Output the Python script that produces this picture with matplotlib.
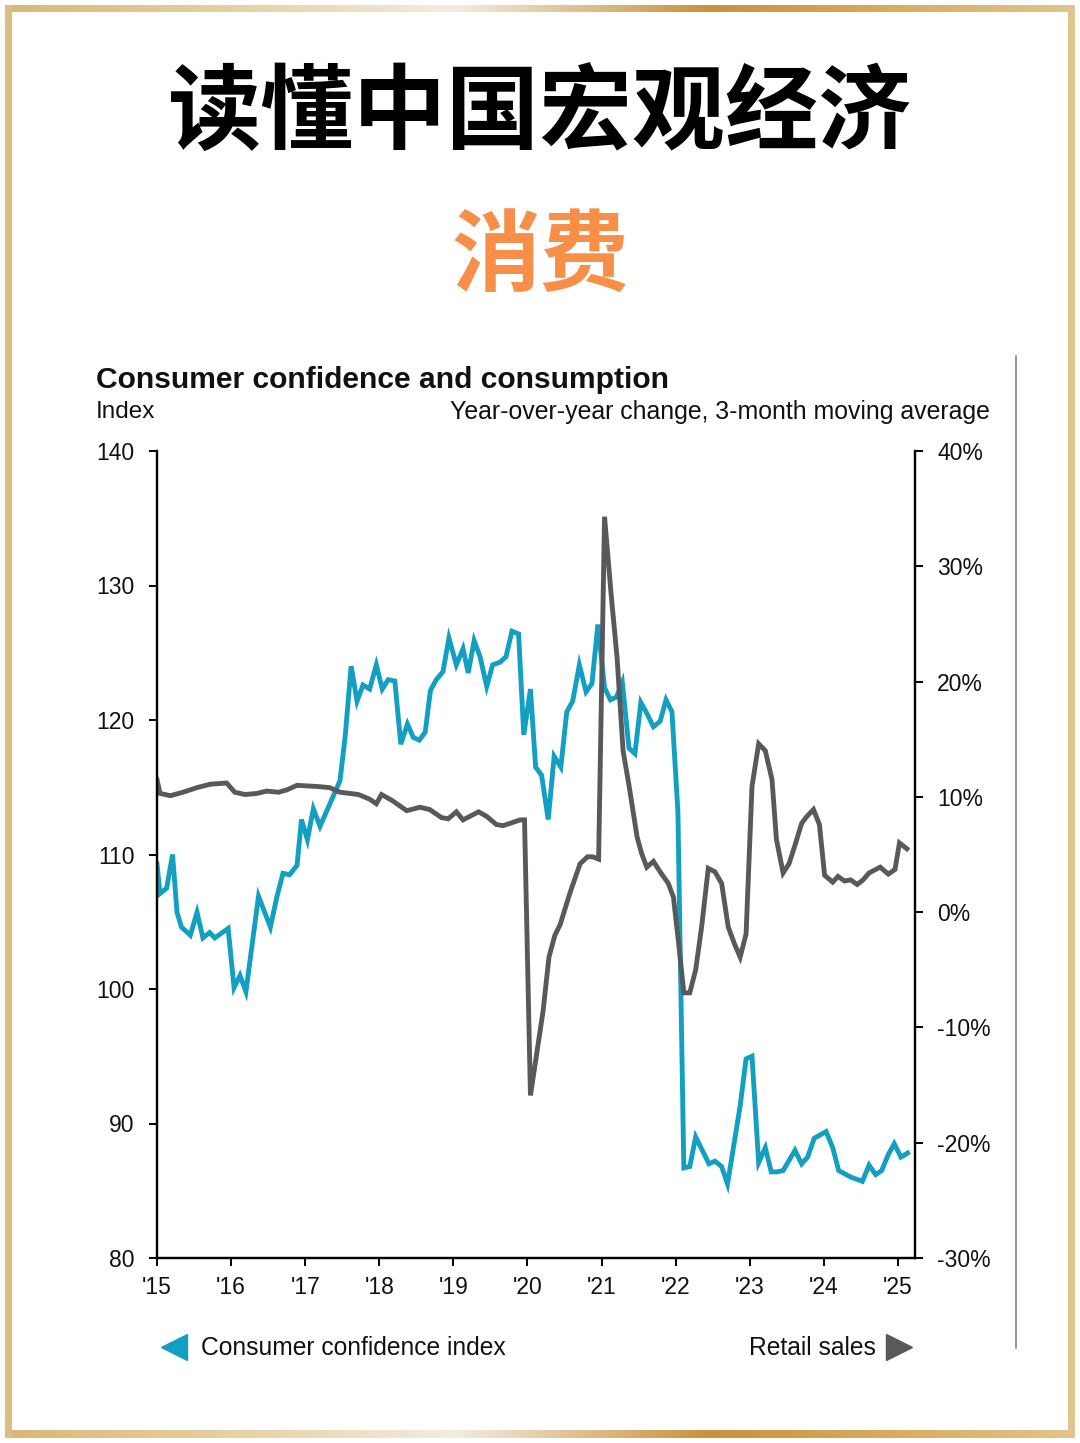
import numpy as np
import matplotlib
matplotlib.use('Agg')
import matplotlib.pyplot as plt
from matplotlib.colors import LinearSegmentedColormap
from matplotlib.patches import Rectangle

W, H = 1080, 1443
BLUE = '#129fc2'
GREY = '#58595b'
SANS = ['Liberation Sans', 'DejaVu Sans']
CJK = ['Noto Sans CJK SC', 'DejaVu Sans']

# consumer confidence index (left axis)
cci_t = [2015.00, 2015.04, 2015.13, 2015.21, 2015.27, 2015.33, 2015.45, 2015.54,
         2015.62, 2015.71, 2015.78, 2015.96, 2016.04, 2016.12, 2016.20, 2016.37,
         2016.53, 2016.62, 2016.70, 2016.79, 2016.89, 2016.95, 2017.03, 2017.11,
         2017.20, 2017.36, 2017.47, 2017.54, 2017.62, 2017.70, 2017.78, 2017.87,
         2017.96, 2018.04, 2018.12, 2018.21, 2018.29, 2018.38, 2018.46, 2018.54,
         2018.62, 2018.69, 2018.77, 2018.86, 2018.94, 2019.04, 2019.13, 2019.20,
         2019.28, 2019.36, 2019.45, 2019.53, 2019.63, 2019.71, 2019.79, 2019.88,
         2019.95, 2020.04, 2020.11, 2020.19, 2020.28, 2020.36, 2020.45, 2020.53,
         2020.61, 2020.70, 2020.79, 2020.87, 2020.95, 2021.04, 2021.12, 2021.20,
         2021.28, 2021.37, 2021.45, 2021.53, 2021.61, 2021.70, 2021.79, 2021.87,
         2021.95, 2022.03, 2022.11, 2022.19, 2022.27, 2022.36, 2022.45, 2022.53,
         2022.62, 2022.70, 2022.87, 2022.95, 2023.03, 2023.12, 2023.21, 2023.29,
         2023.36, 2023.45, 2023.61, 2023.70, 2023.78, 2023.87, 2024.03, 2024.12,
         2024.20, 2024.37, 2024.52, 2024.61, 2024.70, 2024.78, 2024.87, 2024.95,
         2025.04, 2025.13]
cci_v = [109.3, 107.1, 107.5, 110.0, 105.7, 104.6, 104.0, 105.7,
         103.8, 104.2, 103.8, 104.5, 100.1, 101.0, 99.8, 106.9,
         104.6, 106.9, 108.6, 108.5, 109.2, 112.6, 111.1, 113.4,
         112.1, 114.1, 115.5, 118.8, 124.0, 121.4, 122.6, 122.3,
         124.1, 122.3, 123.0, 122.9, 118.2, 119.7, 118.7, 118.5,
         119.1, 122.2, 123.0, 123.6, 126.1, 124.1, 125.3, 123.5,
         125.9, 124.7, 122.5, 124.1, 124.3, 124.7, 126.6, 126.4,
         118.9, 122.3, 116.5, 115.9, 112.6, 117.3, 116.5, 120.6,
         121.4, 124.1, 122.1, 122.7, 127.1, 122.4, 121.5, 121.7,
         122.8, 117.9, 117.5, 121.3, 120.5, 119.5, 119.9, 121.5,
         120.6, 113.2, 86.7, 86.8, 89.0, 88.0, 87.0, 87.2,
         86.8, 85.5, 91.3, 94.8, 95.0, 87.1, 88.2, 86.4,
         86.4, 86.5, 88.0, 87.0, 87.5, 88.9, 89.4, 88.2,
         86.5, 86.0, 85.7, 86.9, 86.2, 86.5, 87.7, 88.5,
         87.5, 87.8]

# retail sales, yoy %, 3-month moving average (right axis)
rs_t = [2015.00, 2015.04, 2015.18, 2015.35, 2015.54, 2015.72, 2015.94, 2016.05,
        2016.19, 2016.35, 2016.48, 2016.64, 2016.75, 2016.89, 2017.16, 2017.33,
        2017.47, 2017.60, 2017.72, 2017.87, 2017.96, 2018.03, 2018.17, 2018.37,
        2018.55, 2018.68, 2018.84, 2018.93, 2019.04, 2019.13, 2019.34, 2019.45,
        2019.58, 2019.67, 2019.81, 2019.90, 2019.96, 2020.04, 2020.21, 2020.29,
        2020.37, 2020.44, 2020.57, 2020.71, 2020.81, 2020.88, 2020.96, 2021.04,
        2021.13, 2021.21, 2021.29, 2021.37, 2021.48, 2021.54, 2021.61, 2021.70,
        2021.79, 2021.90, 2021.97, 2022.04, 2022.11, 2022.19, 2022.27, 2022.35,
        2022.44, 2022.53, 2022.62, 2022.71, 2022.79, 2022.87, 2022.95, 2023.03,
        2023.12, 2023.21, 2023.30, 2023.36, 2023.45, 2023.53, 2023.61, 2023.70,
        2023.77, 2023.86, 2023.94, 2024.01, 2024.12, 2024.19, 2024.28, 2024.36,
        2024.45, 2024.53, 2024.61, 2024.76, 2024.87, 2024.96, 2025.02, 2025.12]
rs_v = [11.5, 10.3, 10.1, 10.4, 10.8, 11.1, 11.2, 10.4,
        10.2, 10.3, 10.5, 10.4, 10.6, 11.0, 10.9, 10.8,
        10.4, 10.3, 10.2, 9.8, 9.4, 10.2, 9.7, 8.8,
        9.1, 8.9, 8.2, 8.1, 8.7, 8.0, 8.7, 8.3,
        7.6, 7.5, 7.8, 8.0, 8.0, -15.9, -8.6, -3.9,
        -2.0, -1.1, 1.6, 4.2, 4.8, 4.8, 4.6, 34.3,
        27.5, 22.0, 14.0, 11.0, 6.5, 5.1, 3.9, 4.4,
        3.5, 2.5, 1.3, -2.7, -7.0, -7.0, -5.0, -1.3,
        3.8, 3.5, 2.5, -1.3, -2.7, -3.9, -1.9, 10.9,
        14.6, 14.0, 11.5, 6.3, 3.4, 4.2, 5.8, 7.7,
        8.3, 8.9, 7.6, 3.2, 2.6, 3.1, 2.7, 2.8,
        2.4, 2.8, 3.4, 3.9, 3.3, 3.7, 6.0, 5.5]

year_ticks = [2015, 2016, 2017, 2018, 2019, 2020, 2021, 2022, 2023, 2024, 2025]
year_labels = ["'15", "'16", "'17", "'18", "'19", "'20", "'21", "'22", "'23", "'24", "'25"]
left_ticks = [80, 90, 100, 110, 120, 130, 140]
right_ticks = [-30, -20, -10, 0, 10, 20, 30, 40]
right_labels = ['-30%', '-20%', '-10%', '0%', '10%', '20%', '30%', '40%']

fig = plt.figure(figsize=(W / 100, H / 100), dpi=100)
fig.patch.set_facecolor('white')

# background layer: golden frame + separator line + legend markers
bg = fig.add_axes([0, 0, 1, 1])
bg.set_zorder(-1)
gold = LinearSegmentedColormap.from_list('gold', [
    (0.0, '#d8b877'), (0.2, '#e6cf9f'), (0.42, '#f3ece0'),
    (0.66, '#c8923c'), (0.82, '#d6ab5e'), (1.0, '#e2c48b')])
grad = np.linspace(0, 1, 256)[None, :]
bg.imshow(grad, cmap=gold, extent=[5, 1075, 12, 5], aspect='auto')
bg.imshow(grad, cmap=gold, extent=[5, 1075, 1438, 1430], aspect='auto')
bg.add_patch(Rectangle((5, 5), 7, 1433, color='#dcbe84', lw=0))
bg.add_patch(Rectangle((1068, 5), 7, 1433, color='#e0c592', lw=0))
bg.plot([1016, 1016], [356, 1348], color='#7a7a7a', lw=1.1)
bg.plot([174], [1347], marker='<', ms=19, color=BLUE, mec=BLUE)
bg.plot([899], [1347], marker='>', ms=19, color=GREY, mec=GREY)
bg.set_xlim(0, W)
bg.set_ylim(H, 0)
bg.axis('off')

# headings
fig.text(0.5, 1 - 115 / H, '读懂中国宏观经济', ha='center', va='center',
         fontsize=67, fontweight='heavy', family=CJK, color='black')
fig.text(0.5, 1 - 258 / H, '消费', ha='center', va='center',
         fontsize=64, fontweight='heavy', family=CJK, color='#f78f48')

fig.text(96 / W, 1 - 380 / H, 'Consumer confidence and consumption', ha='left',
         va='center', fontsize=21.6, fontweight='bold', family=SANS, color='#111111')
fig.text(96 / W, 1 - 412 / H, 'Index', ha='left', va='center',
         fontsize=17.5, family=SANS, color='#111111')
fig.text(990 / W, 1 - 412 / H, 'Year-over-year change, 3-month moving average',
         ha='right', va='center', fontsize=17.9, family=SANS, color='#111111')
fig.text(201 / W, 1 - 1348 / H, 'Consumer confidence index', ha='left', va='center',
         fontsize=17.7, family=SANS, color='#111111')
fig.text(876 / W, 1 - 1348 / H, 'Retail sales', ha='right', va='center',
         fontsize=17.7, family=SANS, color='#111111')

# chart
ax = fig.add_axes([157 / W, 1 - 1258 / H, (915 - 157) / W, (1258 - 451) / H])
ax.plot(cci_t, cci_v, color=BLUE, lw=3.5, solid_joinstyle='miter')
ax.set_xlim(2015, 2025.23)
ax.set_ylim(80, 140)
ax.set_yticks(left_ticks)
ax.set_xticks(year_ticks)
ax.set_xticklabels(year_labels)

ax2 = ax.twinx()
ax2.plot(rs_t, rs_v, color=GREY, lw=3.5, solid_joinstyle='miter')
ax2.set_ylim(-30, 40)
ax2.set_yticks(right_ticks)
ax2.set_yticklabels(right_labels)

for a in (ax, ax2):
    a.spines['top'].set_visible(False)
    for s in ('left', 'right', 'bottom'):
        a.spines[s].set_linewidth(1.6)
        a.spines[s].set_color('black')
    a.tick_params(direction='out', length=6, width=1.4, labelsize=16.5,
                  colors='black', labelcolor='#111111')
ax.tick_params(axis='y', pad=10)
ax.tick_params(axis='x', pad=7)
ax2.tick_params(axis='y', pad=10)
for lab in ax.get_xticklabels() + ax.get_yticklabels() + ax2.get_yticklabels():
    lab.set_fontfamily(SANS)

fig.savefig('out.png', dpi=100, facecolor='white')
